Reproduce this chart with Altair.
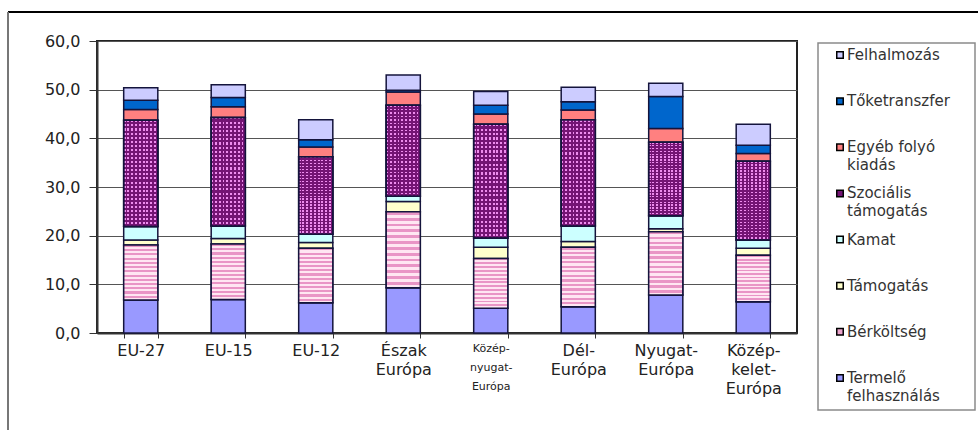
import altair as alt
import pandas as pd

# Column categories ("|" marks a line break in the axis label)
regions = ["EU-27", "EU-15", "EU-12", "Észak|Európa", "Közép-|nyugat-|Európa",
           "Dél-|Európa", "Nyugat-|Európa", "Közép-|kelet-|Európa"]

# Expenditure components, listed from the bottom of each column to the top
series = ["Termelő|felhasználás", "Bérköltség", "Támogatás", "Kamat",
          "Szociális|támogatás", "Egyéb folyó|kiadás", "Tőketranszfer", "Felhalmozás"]

termelo = [6.8, 6.9, 6.2, 9.3, 5.1, 5.4, 7.8, 6.4]
berkoltseg = [11.3, 11.4, 11.2, 15.6, 10.2, 12.2, 13.0, 9.6]
tamogatas = [1.0, 1.1, 1.2, 2.1, 2.3, 1.2, 0.6, 1.4]
kamat = [2.8, 2.6, 1.7, 1.1, 1.9, 3.2, 2.7, 1.7]
szocialis = [21.8, 22.3, 15.9, 18.7, 23.4, 21.8, 15.1, 16.2]
egyeb = [2.2, 2.2, 2.0, 2.7, 2.1, 2.0, 2.8, 1.6]
toketranszfer = [1.9, 1.9, 1.5, 0.4, 1.8, 1.7, 6.6, 1.7]
felhalmozas = [2.6, 2.6, 4.1, 3.1, 2.8, 3.0, 2.7, 4.3]

values = [termelo, berkoltseg, tamogatas, kamat, szocialis, egyeb,
          toketranszfer, felhalmozas]

fills = ["#9999FF", "#EBA3CB", "#FFFFCC", "#CCFFFF", "#741474", "#FF8080",
         "#0066CC", "#CCCCFF"]

y_ticks = [0, 10, 20, 30, 40, 50, 60]

rows = []
for i, s in enumerate(series):
    for j, r in enumerate(regions):
        rows.append({"region": r, "series": s, "order": i, "value": values[i][j]})
df = pd.DataFrame(rows)

legend_order = list(reversed(series))
legend_df = pd.DataFrame({"series": legend_order})
one = pd.DataFrame({"k": [0]})

FONT = "DejaVu Sans"
EDGE = "#14143C"


def stripes(n, a, b, along_y=True):
    """Hard-edged linear gradient giving n stripes of colour a / colour b."""
    stops = []
    for k in range(n):
        o0, om, o1 = k / n, (k + 0.5) / n, (k + 1) / n
        stops += [{"offset": o0, "color": a}, {"offset": om, "color": a},
                  {"offset": om, "color": b}, {"offset": o1, "color": b}]
    return {"gradient": "linear", "x1": 0, "y1": 0,
            "x2": 0 if along_y else 1, "y2": 1 if along_y else 0,
            "stops": stops}


x_enc = alt.X(
    "region:N", sort=regions,
    scale=alt.Scale(domain=regions, paddingInner=0.61, paddingOuter=0.305),
    axis=alt.Axis(
        title=None, labelAngle=0, labelExpr="split(datum.label, '|')",
        labelFont=FONT,
        labelFontSize={"condition": {"test": "datum.value == 'Közép-|nyugat-|Európa'",
                                     "value": 11}, "value": 16},
        labelLineHeight=19, labelColor="#222", labelOverlap=False,
        labelPadding=4, tickBand="extent", tickSize=5, tickColor="#333",
        domainColor="#333", domainWidth=2, grid=False,
    ),
)

y_scale = alt.Scale(domain=[0, 60], nice=False)
y_axis = alt.Axis(
    title=None, values=y_ticks,
    labelExpr="replace(format(datum.value, '.1f'), '.', ',')",
    labelFont=FONT, labelFontSize=16, labelColor="#222", labelPadding=9,
    tickSize=8, tickColor="#333", domainColor="#333", domainWidth=2,
    grid=True, gridColor="#555", gridWidth=1,
)

base = alt.Chart(df).transform_stack(
    stack="value", groupby=["region"],
    sort=[alt.SortField("order", order="ascending")], as_=["v0", "v1"],
)

solid = base.mark_bar(stroke=EDGE, strokeWidth=1.5).encode(
    x=x_enc,
    y=alt.Y("v0:Q", scale=y_scale, axis=y_axis),
    y2="v1:Q",
    fill=alt.Fill("series:N", scale=alt.Scale(domain=series, range=fills), legend=None),
)


def patterned(name, fill):
    return base.transform_filter(alt.datum.series == name).mark_bar(
        fill=fill, stroke=EDGE, strokeWidth=1.5
    ).encode(
        x=x_enc,
        y=alt.Y("v0:Q", scale=y_scale, axis=None),
        y2="v1:Q",
    )


# striped wage costs, dotted social transfers (rows of dots masked by columns)
ber_layer = patterned("Bérköltség", stripes(13, "#E995C6", "#FFE6F2"))
szoc_rows = patterned("Szociális|támogatás", stripes(26, "#EE8CEE", "#741474"))
szoc_cols = patterned("Szociális|támogatás",
                      stripes(9, "rgba(116,20,116,0)", "#741474", along_y=False))

legend_y = alt.Y("series:N", scale=alt.Scale(domain=legend_order, range=[14, 337], padding=0),
                 axis=None)

legend_box = alt.Chart(one).mark_rect(fill="white", stroke="#8A8A8A", strokeWidth=1.5).encode(
    x=alt.value(721), x2=alt.value(878), y=alt.value(2), y2=alt.value(369)
)
legend_symbols = alt.Chart(legend_df).mark_point(
    shape="square", filled=True, size=42, stroke="#000", strokeWidth=1.5, opacity=1
).encode(
    x=alt.value(743), y=legend_y,
    fill=alt.Fill("series:N", scale=alt.Scale(domain=series, range=fills), legend=None),
)
legend_text = alt.Chart(legend_df).mark_text(
    align="left", baseline="middle", lineBreak="|", font=FONT, fontSize=15,
    lineHeight=18, color="#333"
).encode(x=alt.value(750), y=legend_y, text="series:N")

frame_top = alt.Chart(one).mark_rule(color="#000", strokeWidth=2).encode(
    x=alt.value(-89), x2=alt.value(881), y=alt.value(-29)
)
frame_left = alt.Chart(one).mark_rule(color="#777", strokeWidth=2).encode(
    x=alt.value(-89), y=alt.value(-29), y2=alt.value(389)
)

chart = alt.layer(
    solid, ber_layer, szoc_rows, szoc_cols,
    legend_box, legend_symbols, legend_text, frame_top, frame_left,
).resolve_scale(y="independent").properties(
    width=700, height=292,
    padding={"left": 97, "top": 41, "right": 181, "bottom": 97},
    autosize=alt.AutoSizeParams(type="none"),
    background="white",
).configure_view(stroke="#222", strokeWidth=2)

chart.save("out.html", embed_options={"renderer": "svg", "actions": False})
